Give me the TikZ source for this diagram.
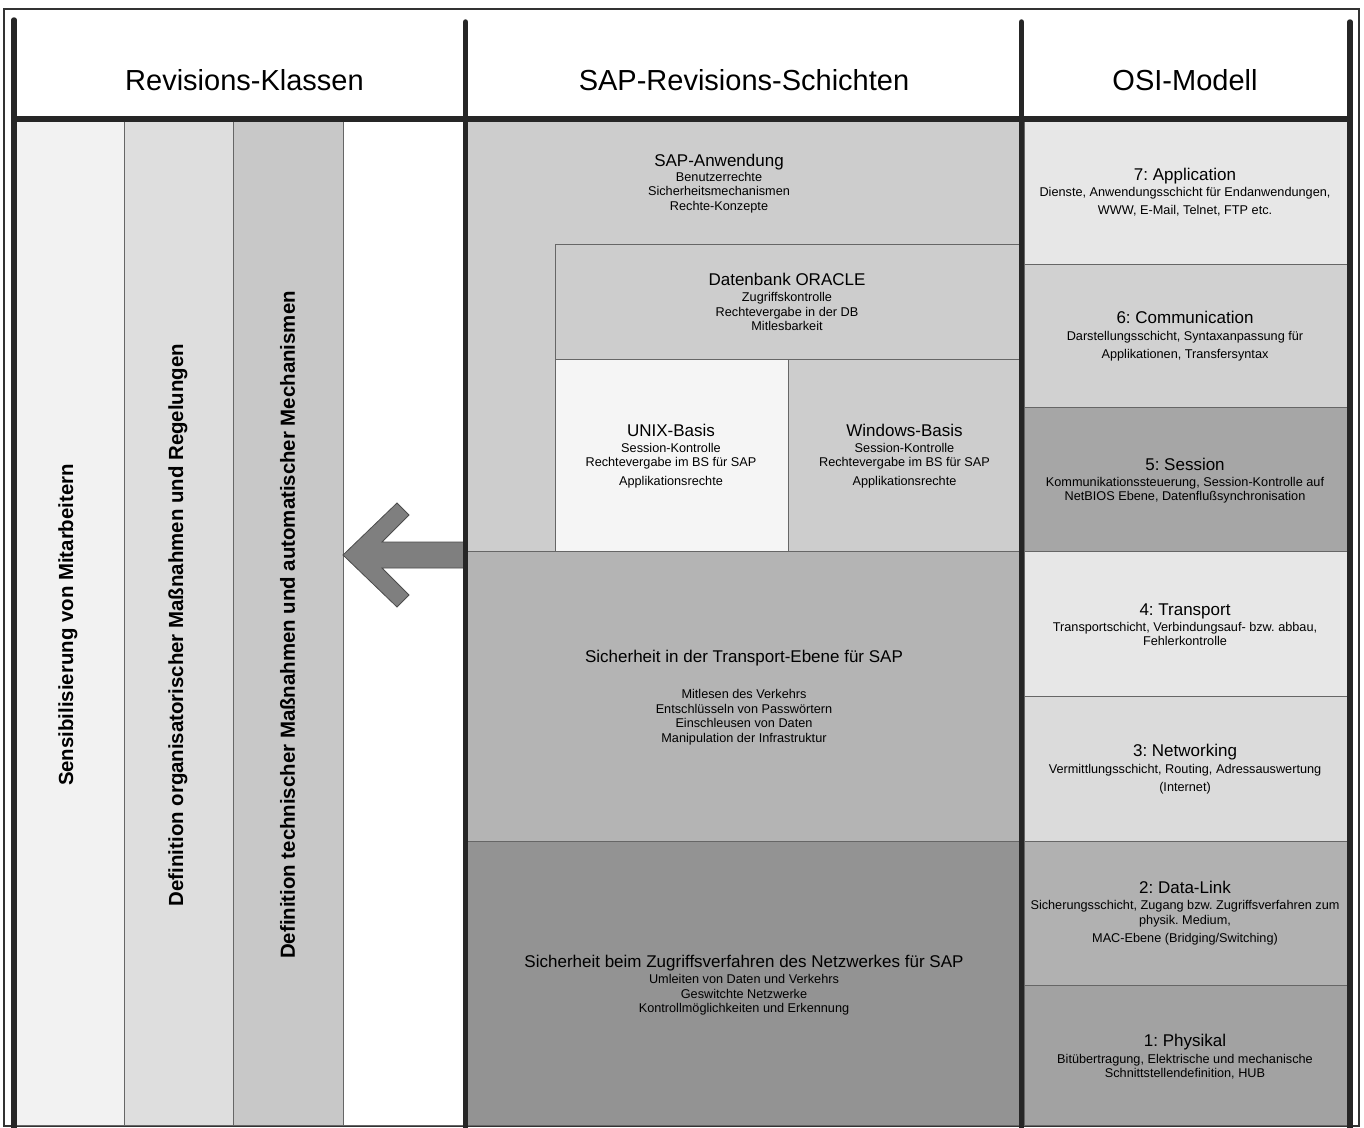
\documentclass[tikz,border=0pt]{standalone}
\usepackage{fontspec}
\setmainfont{Liberation Sans}
\frenchspacing
\definecolor{lcA}{HTML}{F2F2F2}
\definecolor{lcB}{HTML}{DEDEDE}
\definecolor{lcC}{HTML}{C8C8C8}
\definecolor{mA}{HTML}{CDCDCD}
\definecolor{mU}{HTML}{F5F5F5}
\definecolor{mT}{HTML}{B4B4B4}
\definecolor{mN}{HTML}{939393}
\definecolor{oS}{HTML}{E7E7E7}
\definecolor{oF}{HTML}{D1D1D1}
\definecolor{oV}{HTML}{A6A6A6}
\definecolor{oD}{HTML}{DBDBDB}
\definecolor{oZ}{HTML}{B1B1B1}
\definecolor{oE}{HTML}{A2A2A2}
\definecolor{arrowc}{HTML}{7F7F7F}
\begin{document}
\begin{tikzpicture}[x=1pt,y=-1pt,
  box/.style={draw=black!60, line width=0.9pt},
  hdr/.style={font=\frenchspacing\fontsize{29}{32}\selectfont, anchor=base, inner sep=0pt},
  ttl/.style={font=\frenchspacing\fontsize{17}{19}\selectfont, anchor=base, inner sep=0pt},
  sub/.style={font=\frenchspacing\fontsize{12.7}{14}\selectfont, anchor=base, inner sep=0pt},
  vtxt/.style={font=\frenchspacing\bfseries\fontsize{20.4}{22}\selectfont, rotate=90, inner sep=0pt},
  bar/.style={line width=5.5pt, draw=black!85, line cap=round},
]
\useasboundingbox (0,0) rectangle (1364,1127);
% outer frame
\draw[line width=1.4pt, black!80] (4,9) rectangle (1359,1126);
% left columns
\path[box, fill=lcA] (16,121) rectangle (124,1125);
\path[box, fill=lcB] (124,121) rectangle (233,1125);
\path[box, fill=lcC] (233,121) rectangle (343,1125);
\path[box, fill=white] (343,121) rectangle (463,1125);
% middle
\path[box, fill=mA] (467,121) rectangle (1019,551.5);
\path[box, fill=mA] (555,244) rectangle (1019,359.5);
\path[box, fill=mU] (555,359.5) rectangle (788,551.5);
\path[box, fill=mA] (788,359.5) rectangle (1019,551.5);
\path[box, fill=mT] (467,551.5) rectangle (1019,841);
\path[box, fill=mN] (467,841) rectangle (1019,1125);
% OSI
\path[box, fill=oS] (1024,121) rectangle (1347,264);
\path[box, fill=oF] (1024,264) rectangle (1347,407);
\path[box, fill=oV] (1024,407) rectangle (1347,551.5);
\path[box, fill=oS] (1024,551.5) rectangle (1347,696);
\path[box, fill=oD] (1024,696) rectangle (1347,841);
\path[box, fill=oZ] (1024,841) rectangle (1347,985);
\path[box, fill=oE] (1024,985) rectangle (1347,1125);
% arrow
\filldraw[fill=arrowc, draw=black!70, line width=0.8pt, line join=miter]
  (343,555) -- (397,503) -- (409,515) -- (382,542) -- (465,542) -- (465,568)
  -- (382,568) -- (409,595) -- (397,607) -- cycle;
% thick bars
\draw[bar] (14,20) -- (14,1140);
\draw[bar] (465.5,22) -- (465.5,1140);
\draw[bar] (1021.5,22) -- (1021.5,1140);
\draw[bar] (1350,22) -- (1350,1140);
\draw[line width=6pt, draw=black!85] (14,119) -- (1350,119);
% headers
\node[hdr] (hRK) at (244.5,90.5) {Revisions-Klassen};
\node[hdr] (hSAP) at (744,90.5) {SAP-Revisions-Schichten};
\node[hdr] (hOSI) at (1185,90.5) {OSI-Modell};
% vertical texts
\node[vtxt] (vA) at (68,625) {Sensibilisierung von Mitarbeitern};
\node[vtxt] (vB) at (178,625) {Definition organisatorischer Maßnahmen und Regelungen};
\node[vtxt] (vC) at (287.5,625) {Definition technischer Maßnahmen und automatischer Mechanismen};
% SAP-Anwendung
\node[ttl] (sapT) at (719,166) {SAP-Anwendung};
\node[sub] (sapA) at (719,181) {Benutzerrechte};
\node[sub] (sapB) at (719,195.5) {Sicherheitsmechanismen};
\node[sub] (sapC) at (719,210) {Rechte-Konzepte};
% Oracle
\node[ttl] (oraT) at (787,285) {Datenbank ORACLE};
\node[sub] (oraA) at (787,301) {Zugriffskontrolle};
\node[sub] (oraB) at (787,316) {Rechtevergabe in der DB};
\node[sub] (oraC) at (787,330.5) {Mitlesbarkeit};
% UNIX
\node[ttl] (uxT) at (671,436) {UNIX-Basis};
\node[sub] (uxA) at (671,452) {Session-Kontrolle};
\node[sub] (uxB) at (671,466.5) {Rechtevergabe im BS für SAP};
\node[sub] (uxC) at (671,485) {Applikationsrechte};
% Windows
\node[ttl] (wnT) at (904.5,436) {Windows-Basis};
\node[sub] (wnA) at (904.5,452) {Session-Kontrolle};
\node[sub] (wnB) at (904.5,466.5) {Rechtevergabe im BS für SAP};
\node[sub] (wnC) at (904.5,485) {Applikationsrechte};
% Transport
\node[ttl] (trT) at (744,662) {Sicherheit in der Transport-Ebene für SAP};
\node[sub] (trA) at (744,698) {Mitlesen des Verkehrs};
\node[sub] (trB) at (744,713) {Entschlüsseln von Passwörtern};
\node[sub] (trC) at (744,727.5) {Einschleusen von Daten};
\node[sub] (trD) at (744,742) {Manipulation der Infrastruktur};
% Network
\node[ttl] (nwT) at (744,967) {Sicherheit beim Zugriffsverfahren des Netzwerkes für SAP};
\node[sub] (nwA) at (744,983.5) {Umleiten von Daten und Verkehrs};
\node[sub] (nwB) at (744,998) {Geswitchte Netzwerke};
\node[sub] (nwC) at (744,1012.5) {Kontrollmöglichkeiten und Erkennung};
% OSI texts
\node[ttl] (oST) at (1185,180) {7: Application};
\node[sub] (oSA) at (1185,196) {Dienste, Anwendungsschicht für Endanwendungen,};
\node[sub] (oSB) at (1185,214.5) {WWW, E-Mail, Telnet, FTP etc.};
\node[ttl] (oFT) at (1185,323.5) {6: Communication};
\node[sub] (oFA) at (1185,340) {Darstellungsschicht, Syntaxanpassung für};
\node[sub] (oFB) at (1185,358.5) {Applikationen, Transfersyntax};
\node[ttl] (oVT) at (1185,470) {5: Session};
\node[sub] (oVA) at (1185,486) {Kommunikationssteuerung, Session-Kontrolle auf};
\node[sub] (oVB) at (1185,500.5) {NetBIOS Ebene, Datenflußsynchronisation};
\node[ttl] (oTT) at (1185,615) {4: Transport};
\node[sub] (oTA) at (1185,631.5) {Transportschicht, Verbindungsauf- bzw. abbau,};
\node[sub] (oTB) at (1185,645.5) {Fehlerkontrolle};
\node[ttl] (oDT) at (1185,756.5) {3: Networking};
\node[sub] (oDA) at (1185,773) {Vermittlungsschicht, Routing, Adressauswertung};
\node[sub] (oDB) at (1185,791) {(Internet)};
\node[ttl] (oZT) at (1185,893) {2: Data-Link};
\node[sub] (oZA) at (1185,909) {Sicherungsschicht, Zugang bzw. Zugriffsverfahren zum};
\node[sub] (oZB) at (1185,924) {physik. Medium,};
\node[sub] (oZC) at (1185,942.5) {MAC-Ebene (Bridging/Switching)};
\node[ttl] (oET) at (1185,1046.5) {1: Physikal};
\node[sub] (oEA) at (1185,1063) {Bitübertragung, Elektrische und mechanische};
\node[sub] (oEB) at (1185,1077.5) {Schnittstellendefinition, HUB};
\end{tikzpicture}
\end{document}
